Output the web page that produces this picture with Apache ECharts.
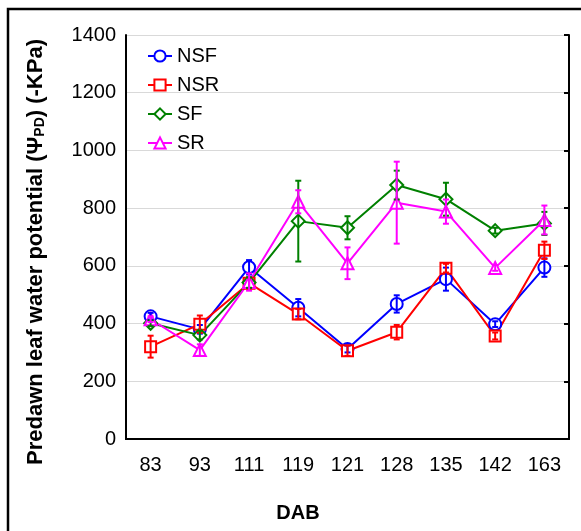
<!DOCTYPE html>
<html><head><meta charset="utf-8">
<script src="https://cdn.jsdelivr.net/npm/echarts@6/dist/echarts.min.js"></script>
<style>html,body{margin:0;padding:0;background:#fff}#c{width:581px;height:531px}</style>
</head><body><div id="c"></div>
<script>
var categories = ['83','93','111','119','121','128','135','142','163'];
var yTicks = [0,200,400,600,800,1000,1200,1400];
var seriesNames = ['NSF','NSR','SF','SR'];
var NSF = [425, 380, 595, 455, 312, 468, 554, 398, 594];
var NSF_err = [12, 15, 25, 30, 12, 30, 40, 10, 32];
var NSR = [320, 398, 540, 433, 306, 370, 592, 357, 654];
var NSR_err = [38, 30, 20, 18, 18, 25, 15, 12, 30];
var SF = [401, 360, 542, 755, 732, 880, 831, 722, 747];
var SF_err = [10, 15, 18, 140, 40, 50, 57, 10, 40];
var SR = [415, 308, 544, 822, 609, 819, 788, 593, 759];
var SR_err = [10, 20, 30, 40, 55, 142, 42, 10, 50];

var colors = ['#0000ff','#ff0000','#008000','#ff00ff'];
var symbols = ['circle','rect','diamond','triangle'];
var vals = [NSF, NSR, SF, SR];
var errs = [NSF_err, NSR_err, SF_err, SR_err];
var FONT = 'Liberation Sans, Arial, sans-serif';

var chart = echarts.init(document.getElementById('c'), null, {renderer:'canvas'});
var series = [];
vals.forEach(function(v, k){
  series.push({
    name: seriesNames[k], type:'line', data: v, symbol: symbols[k],
    symbolSize: symbols[k]==='diamond'?13:(symbols[k]==='rect'?11:12),
    showAllSymbol:true,
    lineStyle:{color:colors[k], width:2},
    itemStyle:{color:'#fff', borderColor:colors[k], borderWidth:2},
    z: 3
  });
  series.push({
    name: seriesNames[k], type:'custom',
    data: v.map(function(y,i){ return [i, y-errs[k][i], y+errs[k][i]]; }),
    renderItem: function(params, api){
      var lo = api.coord([api.value(0), api.value(1)]);
      var hi = api.coord([api.value(0), api.value(2)]);
      var w = 3;
      var st = {stroke: colors[k], lineWidth: 2};
      return {type:'group', children:[
        {type:'line', shape:{x1:lo[0],y1:lo[1],x2:hi[0],y2:hi[1]}, style:st},
        {type:'line', shape:{x1:lo[0]-w,y1:lo[1],x2:lo[0]+w,y2:lo[1]}, style:st},
        {type:'line', shape:{x1:hi[0]-w,y1:hi[1],x2:hi[0]+w,y2:hi[1]}, style:st}
      ]};
    },
    z: 4
  });
});

chart.setOption({
  animation:false,
  backgroundColor:'#fff',
  textStyle:{fontFamily:FONT},
  grid:{left:126, top:35, right:12, bottom:92, containLabel:false},
  legend:{
    orient:'vertical', left:142, top:41, itemGap:9, itemWidth:24, itemHeight:14, itemTextGap:6,
    data: seriesNames.map(function(n,k){return {name:n, itemStyle:{color:'#fff', borderColor:colors[k], borderWidth:2}, lineStyle:{color:colors[k], width:2}};}),
    textStyle:{fontSize:20, color:'#000', fontFamily:FONT}
  },
  xAxis:[{
    type:'category', data:categories, boundaryGap:true,
    axisLine:{lineStyle:{color:'#000', width:2}},
    axisTick:{alignWithLabel:true, inside:true, length:5, lineStyle:{color:'#000', width:2}},
    axisLabel:{fontSize:20, color:'#000', margin:16, fontFamily:FONT},
    splitLine:{show:false}
  },{
    type:'category', data:categories, position:'top', boundaryGap:true,
    axisLine:{lineStyle:{color:'#000', width:2}},
    axisTick:{alignWithLabel:true, inside:true, length:5, lineStyle:{color:'#000', width:2}},
    axisLabel:{show:false}
  }],
  yAxis:[{
    type:'value', min:0, max:1400, interval:200, position:'left',
    axisLine:{show:true, lineStyle:{color:'#000', width:2}},
    axisTick:{show:false},
    axisLabel:{fontSize:20, color:'#000', margin:10, fontFamily:FONT, formatter:function(v){return String(v);}},
    splitLine:{show:true, lineStyle:{color:'#d9d9d9', width:1}}
  },{
    type:'value', min:0, max:1400, interval:200, position:'right',
    axisLine:{show:true, lineStyle:{color:'#000', width:2}},
    axisTick:{show:true, inside:true, length:5, lineStyle:{color:'#000', width:2}},
    axisLabel:{show:false}, splitLine:{show:false}
  }],
  graphic:[
    {type:'rect', shape:{x:8, y:9, width:600, height:600}, style:{fill:null, stroke:'#000', lineWidth:2.5}, silent:true},
    {type:'text', x:298, y:513, style:{text:'DAB', fontSize:20, fontWeight:'bold', fill:'#000', align:'center', verticalAlign:'middle', fontFamily:FONT}},
    {type:'text', x:36, y:252, rotation:Math.PI/2,
      style:{text:'Predawn leaf water potential (Ψ{sub|PD}) (-KPa)', fontSize:22, fontWeight:'bold', fill:'#000', align:'center', verticalAlign:'middle', fontFamily:FONT,
        rich:{sub:{fontSize:14, fontWeight:'bold', fill:'#000', padding:[9,0,0,0], fontFamily:FONT}}}}
  ],
  series: series
});
</script></body></html>
